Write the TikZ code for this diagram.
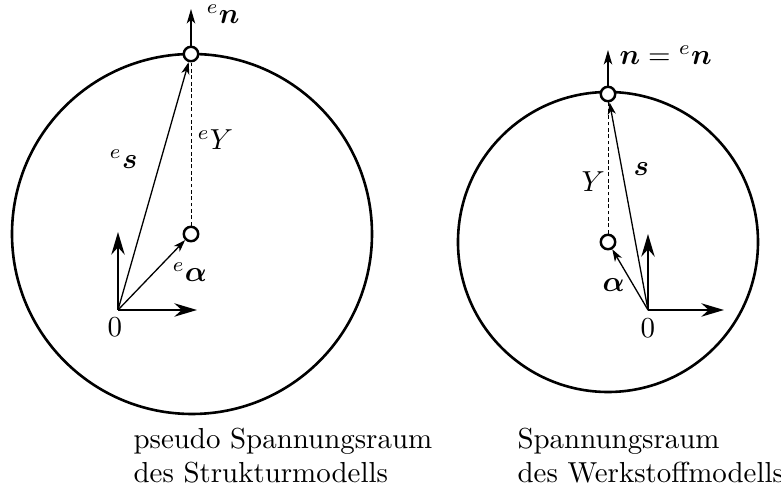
\documentclass[tikz,border=0pt]{standalone}
\usepackage{amsmath,bm}
\usetikzlibrary{arrows.meta,positioning}

\tikzset{
  pmark/.style={circle, draw, line width=0.85pt, fill=white, inner sep=0pt, minimum size=5pt},
  axisarrow/.style={-{Stealth[length=7.8pt, width=4.6pt, inset=2.5pt]}, line width=0.85pt},
  vecarrow/.style={-{Stealth[length=4.2pt, width=2.8pt, inset=1.2pt]}, line width=0.45pt},
  normarrow/.style={-{Stealth[length=5pt, width=2.9pt, inset=1.3pt]}, line width=0.6pt},
  dashline/.style={dash pattern=on 1.3pt off 0.9pt, line width=0.3pt},
  rim/.style={line width=0.9pt},
  lbl/.style={inner sep=0pt, anchor=base west},
  caption/.style={anchor=base west, align=left, inner sep=0pt},
}

\begin{document}
\begin{tikzpicture}[x=0.1215mm, y=-0.1215mm]
  \useasboundingbox (0,0) rectangle (781,490);

  %--- Strukturmodell (left) ---
  \coordinate (o1) at (118,310);
  \coordinate (n1) at (191,9);
  \coordinate (up1) at (118,232);
  \coordinate (right1) at (197,310);
  \draw[rim] (192,234) circle[radius=180];
  \node[pmark] (c1) at (191,234) {};
  \node[pmark] (t1) at (191,54) {};

  \draw[axisarrow] (o1) -- (up1);
  \draw[axisarrow] (o1) -- (right1);
  \draw[dashline] (c1) -- (t1);
  \draw[vecarrow] (o1) -- (t1);
  \draw[vecarrow] (o1) -- (c1);
  \draw[normarrow] (t1) -- (n1);

  \node[lbl] (zero1) at (107,337) {$0$};
  \node[lbl] (en1) at (206,24) {$^e\bm{n}$};
  \node[lbl] (eY) at (197,150) {$^eY$};
  \node[lbl] (es) at (109,169) {$^e\bm{s}$};
  \node[lbl] (ealpha) at (172,282) {$^e\bm{\alpha}$};

  % caption: base anchor sits on the last line
  \node[caption] (cap1) at (133,483) {pseudo Spannungsraum\\des Strukturmodells};

  %--- Werkstoffmodell (right) ---
  \coordinate (o2) at (648,310);
  \coordinate (n2) at (608,50);
  \coordinate (up2) at (648,234);
  \coordinate (right2) at (724,310);
  \draw[rim] (608,242) circle[radius=150];
  \node[pmark] (c2) at (608,242) {};
  \node[pmark] (t2) at (608,94) {};

  \draw[axisarrow] (o2) -- (up2);
  \draw[axisarrow] (o2) -- (right2);
  \draw[dashline] (c2) -- (t2);
  \draw[vecarrow] (o2) -- (t2);
  \draw[vecarrow] (o2) -- (c2);
  \draw[normarrow] (t2) -- (n2);

  \node[lbl] (zero2) at (640,338) {$0$};
  \node[lbl] (nen) at (619,65) {$\bm{n} = {}^e\bm{n}$};
  \node[lbl] (Y) at (581,192) {$Y$};
  \node[lbl] (s) at (633,176) {$\bm{s}$};
  \node[lbl] (alpha) at (602,292) {$\bm{\alpha}$};

  \node[caption] (cap2) at (517,483) {Spannungsraum\\des Werkstoffmodells};
\end{tikzpicture}
\end{document}
